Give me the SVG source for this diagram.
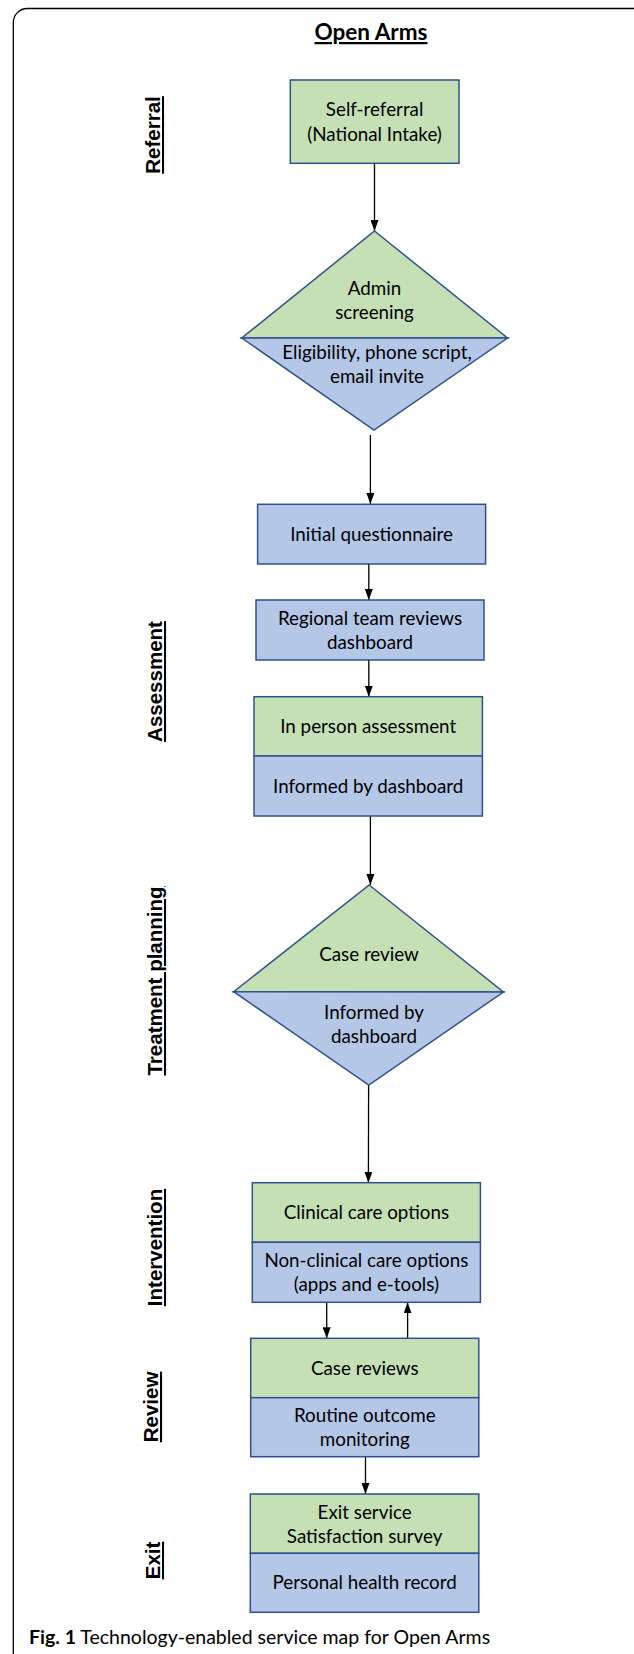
<svg xmlns="http://www.w3.org/2000/svg" width="634" height="1654" viewBox="0 0 634 1654">
<style>
.frame{fill:none;stroke:#000;stroke-width:1.3}
.g{fill:#C5E0B4;stroke:#2F528F;stroke-width:1.5}
.b{fill:#B4C7E7;stroke:#2F528F;stroke-width:1.5}
.t{font-family:Lato,"Open Sans",sans-serif;font-size:18.8px;fill:#000;text-anchor:middle}
.lab{font-family:"Liberation Sans",Arial,sans-serif;font-weight:bold;font-size:20.5px;fill:#000;text-anchor:middle;text-decoration:underline}
.title{font-family:Lato,"Open Sans",sans-serif;font-weight:bold;font-size:22.5px;fill:#000;text-anchor:middle;text-decoration:underline}
.cap{font-family:Lato,"Open Sans",sans-serif;font-size:19.5px;fill:#000}
.c{stroke:#000;stroke-width:1.3;fill:none;marker-end:url(#ah)}
</style>
<defs>
<marker id="ah" markerUnits="userSpaceOnUse" markerWidth="11" markerHeight="8" refX="11" refY="4" orient="auto">
<path d="M0,0 L11,4 L0,8 Z" fill="#000"/>
</marker>
</defs>
<rect class="frame" x="13.3" y="8.5" width="640" height="1720" rx="14" ry="14"/>
<text class="title" x="371" y="40">Open Arms</text>
<g id="labels">
<text class="lab" transform="translate(160,135) rotate(-90)">Referral</text>
<text class="lab" transform="translate(162,681.5) rotate(-90)">Assessment</text>
<text class="lab" transform="translate(162,981) rotate(-90)">Treatment planning</text>
<text class="lab" transform="translate(162,1247.5) rotate(-90)">Intervention</text>
<text class="lab" transform="translate(158,1407) rotate(-90)">Review</text>
<text class="lab" transform="translate(160,1560.5) rotate(-90)">Exit</text>
</g>
<g id="connectors">
<line class="c" x1="374.5" y1="163.3" x2="374.5" y2="231"/>
<line class="c" x1="370.4" y1="435" x2="370.4" y2="504"/>
<line class="c" x1="368.8" y1="564" x2="368.8" y2="600"/>
<line class="c" x1="368.8" y1="660" x2="368.8" y2="696.7"/>
<line class="c" x1="370.4" y1="816" x2="370.4" y2="885"/>
<line class="c" x1="368.6" y1="1085" x2="368.4" y2="1182.7"/>
<line class="c" x1="326.7" y1="1302.3" x2="326.7" y2="1338.3"/>
<line class="c" x1="407.6" y1="1338.3" x2="407.6" y2="1302.3"/>
<line class="c" x1="365.5" y1="1456.7" x2="365.5" y2="1494"/>
</g>
<g id="self-referral">
<rect class="g" x="290.3" y="80" width="168.7" height="83.3"/>
<text class="t" x="374.6" y="116">Self-referral</text>
<text class="t" x="374.6" y="141">(National Intake)</text>
</g>
<g id="admin-screening">
<polygon class="g" points="374.5,231 507.5,338 241.8,338"/>
<polygon class="b" points="241.8,338 507.5,338 374,430"/>
<text class="t" x="374.5" y="294.5">Admin</text>
<text class="t" x="374.5" y="319">screening</text>
<text class="t" x="377" y="359">Eligibility, phone script,</text>
<text class="t" x="377" y="383">email invite</text>
</g>
<g id="initial-questionnaire">
<rect class="b" x="257.6" y="504.3" width="228" height="59.7"/>
<text class="t" x="371.6" y="541">Initial questionnaire</text>
</g>
<g id="regional-team">
<rect class="b" x="256" y="600" width="228" height="60"/>
<text class="t" x="370" y="625">Regional team reviews</text>
<text class="t" x="370" y="649">dashboard</text>
</g>
<g id="in-person-assessment">
<rect class="g" x="254" y="696.7" width="228.4" height="59.3"/>
<rect class="b" x="254" y="756" width="228.4" height="60"/>
<text class="t" x="368.2" y="733">In person assessment</text>
<text class="t" x="368.2" y="793">Informed by dashboard</text>
</g>
<g id="case-review">
<polygon class="g" points="369.2,885 503.4,992 233.7,991.7"/>
<polygon class="b" points="233.7,991.7 503.4,992 368.8,1085"/>
<text class="t" x="369" y="961">Case review</text>
<text class="t" x="374" y="1019">Informed by</text>
<text class="t" x="374" y="1043">dashboard</text>
</g>
<g id="intervention">
<rect class="g" x="252.3" y="1182.7" width="228.1" height="59.6"/>
<rect class="b" x="252.3" y="1242.3" width="228.1" height="60"/>
<text class="t" x="366.4" y="1219">Clinical care options</text>
<text class="t" x="366.4" y="1267">Non-clinical care options</text>
<text class="t" x="366.4" y="1291">(apps and e-tools)</text>
</g>
<g id="review">
<rect class="g" x="250.7" y="1338.3" width="228.1" height="59.4"/>
<rect class="b" x="250.7" y="1397.7" width="228.1" height="59"/>
<text class="t" x="364.8" y="1375">Case reviews</text>
<text class="t" x="364.8" y="1422">Routine outcome</text>
<text class="t" x="364.8" y="1446">monitoring</text>
</g>
<g id="exit">
<rect class="g" x="250.3" y="1494" width="228.5" height="59.3"/>
<rect class="b" x="250.3" y="1553.3" width="228.5" height="59"/>
<text class="t" x="364.6" y="1519">Exit service</text>
<text class="t" x="364.6" y="1543">Satisfaction survey</text>
<text class="t" x="364.6" y="1589">Personal health record</text>
</g>
<text class="cap" x="29" y="1644"><tspan font-weight="bold">Fig. 1</tspan> Technology-enabled service map for Open Arms</text>
</svg>
